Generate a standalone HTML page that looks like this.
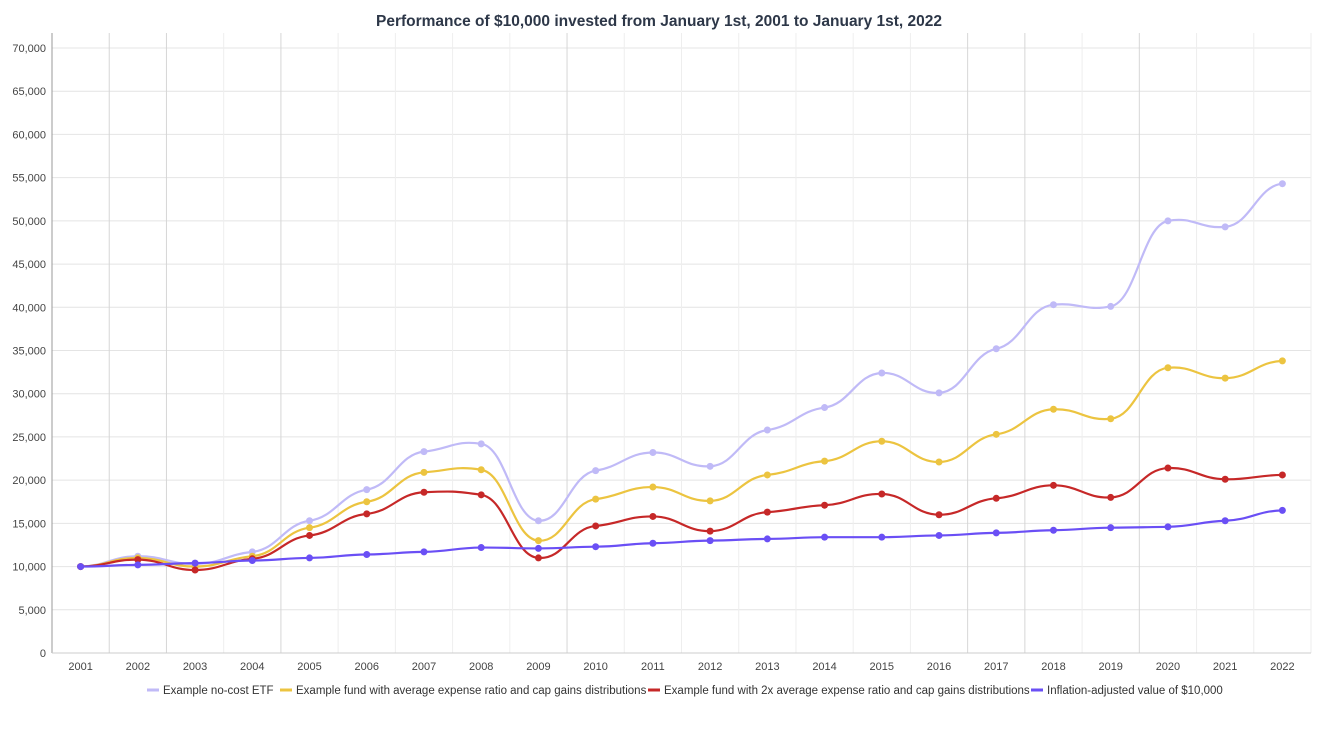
<!DOCTYPE html>
<html><head><meta charset="utf-8"><style>
body{margin:0;background:#fff;font-family:"Liberation Sans",sans-serif}
svg text{font-family:"Liberation Sans",sans-serif}
</style></head><body>
<svg id="c" width="1318" height="726">
<text x="659" y="26" text-anchor="middle" font-size="15.5" font-weight="bold" fill="#2d3748">Performance of $10,000 invested from January 1st, 2001 to January 1st, 2022</text>
<g id="grid"></g><g id="axes"></g><g id="series"></g><g id="legend"></g>
</svg>
<script>
const years=[2001,2002,2003,2004,2005,2006,2007,2008,2009,2010,2011,2012,2013,2014,2015,2016,2017,2018,2019,2020,2021,2022];
const etf=[10000,11200,10300,11700,15300,18900,23300,24200,15300,21100,23200,21600,25800,28400,32400,30100,35200,40300,40100,50000,49300,54300];
const avgFund=[10000,11000,10000,11200,14500,17500,20900,21200,13000,17800,19200,17600,20600,22200,24500,22100,25300,28200,27100,33000,31800,33800];
const doubleFund=[10000,10800,9600,10900,13600,16100,18600,18300,11000,14700,15800,14100,16300,17100,18400,16000,17900,19400,18000,21400,20100,20600];
const inflation=[10000,10200,10400,10700,11000,11400,11700,12200,12100,12300,12700,13000,13200,13400,13400,13600,13900,14200,14500,14600,15300,16500];
const yTicks=[0,5000,10000,15000,20000,25000,30000,35000,40000,45000,50000,55000,60000,65000,70000];
const seriesNames=["Example no-cost ETF","Example fund with average expense ratio and cap gains distributions","Example fund with 2x average expense ratio and cap gains distributions","Inflation-adjusted value of $10,000"];
const colors=["#c0baf7","#ecc440","#c62828","#6a4ff5"];
const L=52,R=1311,T=33,B=653;
const step=(R-L)/years.length;
const x=i=>L+step*(i+0.5);
const y=v=>B-(v/70000)*(B-48);
const NS="http://www.w3.org/2000/svg";
function mk(t,a,p){const e=document.createElementNS(NS,t);for(const k in a)e.setAttribute(k,a[k]);p.appendChild(e);return e;}
const grid=document.getElementById('grid'),axes=document.getElementById('axes');
yTicks.forEach(v=>{
 const l=mk('line',{x1:L,x2:R,y1:y(v),y2:y(v),stroke:'#e4e4e4','stroke-width':1},grid);
 
 
 const t=mk('text',{x:L-6,y:y(v)+4,'text-anchor':'end','font-size':11,fill:'#444'},axes);
 t.textContent=v.toLocaleString('en-US');
 
 
});
for(let k=1;k<=years.length;k++){
 const dark=[1,2,4,9,16,17,19].includes(k);
 const l=mk('line',{x1:L+step*k,x2:L+step*k,y1:T,y2:B,stroke:dark?'#d6d6d6':'#eeeeee','stroke-width':1},grid);
 
 
}
const ya=mk('line',{x1:L,x2:L,y1:T,y2:B,stroke:'#999'},axes);


const xa=mk('line',{x1:L,x2:R,y1:B,y2:B,stroke:'#ccc'},axes);


years.forEach((yr,i)=>{
 const t=mk('text',{x:x(i),y:670,'text-anchor':'middle','font-size':11,fill:'#444'},axes);
 t.textContent=yr;
 
 
});
function path(vals){
 const p=vals.map((v,i)=>[x(i),y(v)]);
 const k=0.06;
 let d=`M${p[0][0]},${p[0][1]}`;
 for(let i=0;i<p.length-1;i++){
  const p0=p[i-1]||p[i],p1=p[i],p2=p[i+1],p3=p[i+2]||p2;
  const c1=[p1[0]+step*0.45,p1[1]+(p2[1]-p0[1])*k];
  const c2=[p2[0]-step*0.45,p2[1]-(p3[1]-p1[1])*k];
  d+=`C${c1[0]},${c1[1]} ${c2[0]},${c2[1]} ${p2[0]},${p2[1]}`;
 }
 return d;
}
const sg=document.getElementById('series');
[etf,avgFund,doubleFund,inflation].forEach((vals,s)=>{
 const g=mk('g',{},sg);
 
 
 const pa=mk('path',{d:path(vals),fill:'none',stroke:colors[s],'stroke-width':2.2},g);
 
 
 vals.forEach((v,i)=>{
  const c=mk('circle',{cx:x(i),cy:y(v),r:3.5,fill:colors[s]},g);
  
  
 });
});
const lg=document.getElementById('legend');
const lx=[147,280,648,1031];
seriesNames.forEach((n,i)=>{
 const g=mk('g',{},lg);
 
 
 mk('line',{x1:lx[i],x2:lx[i]+12,y1:690,y2:690,stroke:colors[i],'stroke-width':3},g);
 const t=mk('text',{x:lx[i]+16,y:694,'font-size':11.5,fill:'#333'},g);
 t.textContent=n;
});
</script>
</body></html>
